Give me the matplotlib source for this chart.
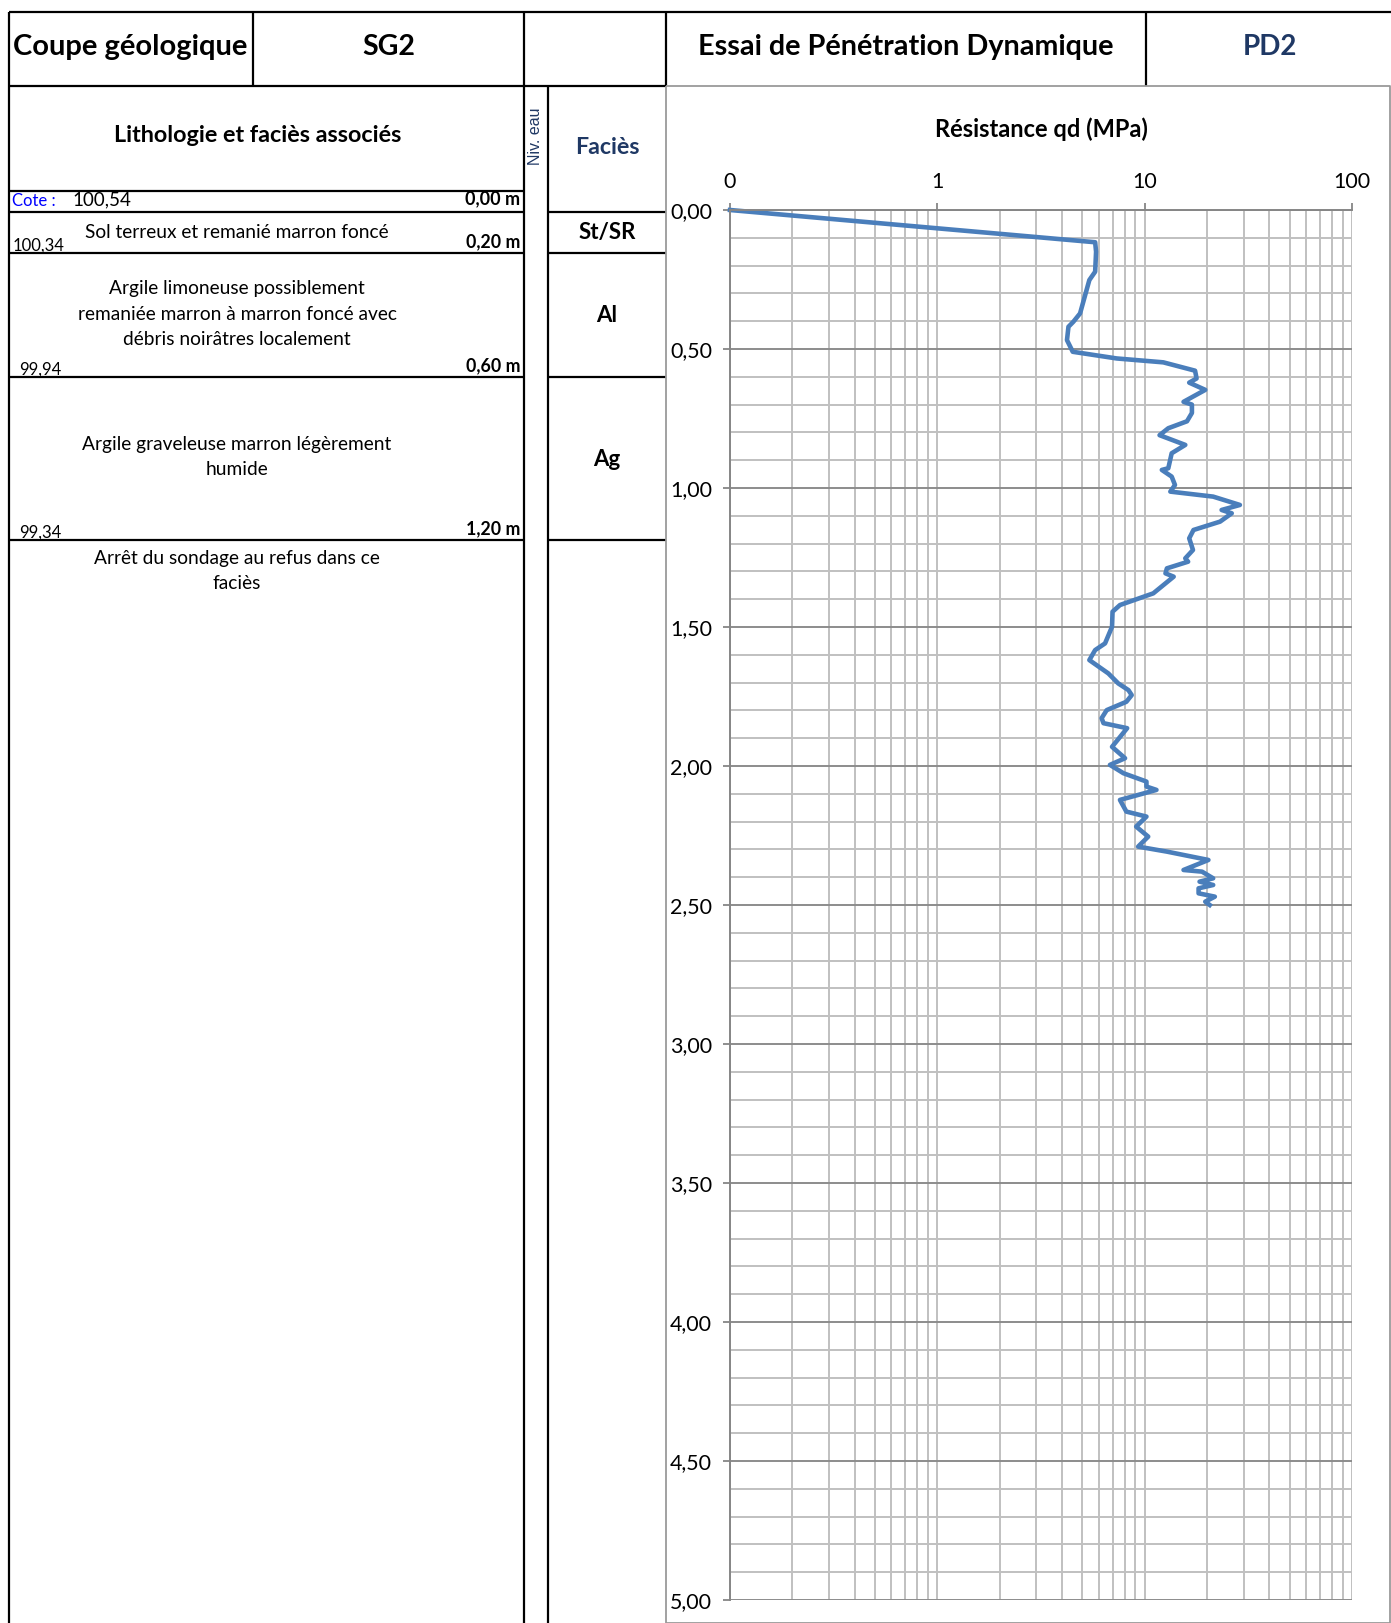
import matplotlib.pyplot as plt
from matplotlib.ticker import FixedLocator, LogLocator, MultipleLocator, NullFormatter

plt.rcParams['font.family'] = ['Lato', 'DejaVu Sans']

# Données du sondage
sondage = "SG2"
essai = "PD2"
cote_tete = "100,54"
couches = [
    "Sol terreux et remanié marron foncé",
    "Argile limoneuse possiblement\nremaniée marron à marron foncé avec\ndébris noirâtres localement",
    "Argile graveleuse marron légèrement\nhumide",
]
fin_sondage = "Arrêt du sondage au refus dans ce\nfaciès"
prof_base = ["0,20 m", "0,60 m", "1,20 m"]
cote_base = ["100,34", "99,94", "99,34"]
facies = ["St/SR", "Al", "Ag"]

# Résistance de pointe qd (MPa) en fonction de la profondeur (m)
profondeur = [0.0, 0.116, 0.15, 0.222, 0.252, 0.372, 0.402, 0.42, 0.468, 0.51,
              0.534, 0.548, 0.578, 0.606, 0.621, 0.647, 0.69, 0.70, 0.73, 0.76,
              0.785, 0.81, 0.845, 0.875, 0.929, 0.935, 0.959, 0.989, 1.013, 1.031,
              1.061, 1.079, 1.091, 1.121, 1.151, 1.181, 1.223, 1.253, 1.265, 1.289,
              1.307, 1.319, 1.379, 1.421, 1.445, 1.499, 1.559, 1.583, 1.619, 1.667,
              1.703, 1.727, 1.745, 1.769, 1.799, 1.828, 1.846, 1.864, 1.931, 1.972,
              1.996, 2.026, 2.056, 2.074, 2.086, 2.122, 2.164, 2.182, 2.218, 2.254,
              2.29, 2.308, 2.338, 2.374, 2.38, 2.404, 2.416, 2.428, 2.44, 2.458,
              2.47, 2.488, 2.50]
qd = [0.1, 5.77, 5.83, 5.77, 5.41, 4.88, 4.53, 4.29, 4.22, 4.50,
      7.33, 12.3, 17.5, 17.8, 16.4, 19.6, 15.4, 16.9, 16.9, 16.0,
      13.0, 11.8, 15.7, 13.5, 13.0, 12.1, 13.5, 14.0, 13.3, 21.4,
      28.8, 23.5, 26.3, 23.1, 17.2, 16.4, 17.1, 15.7, 16.2, 12.8,
      12.6, 13.8, 11.0, 7.6, 7.0, 6.96, 6.44, 5.77, 5.41, 6.68,
      7.46, 8.35, 8.66, 8.16, 6.56, 6.2, 6.33, 8.23, 6.96, 8.04,
      6.8, 7.9, 10.2, 10.2, 11.4, 7.6, 8.16, 10.2, 9.1, 10.4,
      9.3, 12.8, 20.3, 15.4, 18.9, 21.4, 18.4, 21.4, 18.2, 18.2,
      21.8, 19.6, 20.6]

x_ticks = [0.1, 1, 10, 100]
x_tick_labels = ["0", "1", "10", "100"]
y_ticks = [0, 0.5, 1, 1.5, 2, 2.5, 3, 3.5, 4, 4.5, 5]
y_tick_labels = ["0,00", "0,50", "1,00", "1,50", "2,00", "2,50",
                 "3,00", "3,50", "4,00", "4,50", "5,00"]

W, H = 1391, 1623
fig = plt.figure(figsize=(W / 100, H / 100), dpi=100)
bg = fig.add_axes([0, 0, 1, 1])
bg.set_xlim(0, W)
bg.set_ylim(H, 0)
bg.axis('off')

noir = dict(color='black', lw=1.6, solid_capstyle='butt')
gris = dict(color='#9A9A9A', lw=1.3, solid_capstyle='butt')
bleu_fonce = '#1F3864'

# cadre du tableau
bg.plot([9, W], [12, 12], **noir)
bg.plot([9, 666], [86, 86], **noir)
for x in [9, 524]:
    bg.plot([x, x], [12, H], **noir)
for x in [253, 666, 1146]:
    bg.plot([x, x], [12, 86], **noir)
bg.plot([548, 548], [86, H], **noir)
for y in [191, 212, 253, 377, 540]:
    bg.plot([9, 524], [y, y], **noir)
for y in [212, 253, 377, 540]:
    bg.plot([548, 666], [y, y], **noir)
# cadre du graphique
bg.plot([666, W - 1, W - 1, 666, 666], [86, 86, H, H, 86], **gris)

# en-têtes
bg.text(13, 47, "Coupe géologique", fontsize=21, fontweight='bold', va='center')
bg.text(389, 47, sondage, fontsize=20.5, fontweight='bold', ha='center', va='center')
bg.text(906, 47, "Essai de Pénétration Dynamique", fontsize=20.7, fontweight='bold',
        ha='center', va='center')
bg.text(1270, 47, essai, fontsize=20, fontweight='bold', ha='center', va='center',
        color=bleu_fonce)
bg.text(258, 136, "Lithologie et faciès associés", fontsize=16.8, fontweight='bold',
        ha='center', va='center')
bg.text(535, 136, "Niv. eau", fontsize=11.5, rotation=90, ha='center', va='center',
        color=bleu_fonce, family='Liberation Sans')
bg.text(607, 148, "Faciès", fontsize=16.7, fontweight='bold', ha='center', va='center',
        color=bleu_fonce)
bg.text(1041, 129, "Résistance qd (MPa)", fontsize=17, fontweight='bold',
        ha='center', va='center')

# ligne de cote
bg.text(12, 201, "Cote :", fontsize=12, color='#0000FF', va='center')
bg.text(72, 200, cote_tete, fontsize=13.5, va='center')
bg.text(520, 199, "0,00 m", fontsize=13, fontweight='bold', ha='right', va='center')

# couches
centre_couche = [232, 314, 457]
bas_couche = [253, 377, 540]
centre_facies = [233, 315, 459]
for i in range(len(couches)):
    bg.text(237, centre_couche[i], couches[i], fontsize=13.8, ha='center', va='center',
            linespacing=1.62)
    bg.text(520, bas_couche[i] - 11, prof_base[i], fontsize=12.8, fontweight='bold',
            ha='right', va='center')
    x_cote = 13 if i == 0 else 19
    bg.text(x_cote, bas_couche[i] - 7, cote_base[i], fontsize=12, va='center')
    bg.text(607, centre_facies[i], facies[i], fontsize=16, fontweight='bold',
            ha='center', va='center')
bg.text(237, 571, fin_sondage, fontsize=13.8, ha='center', va='center', linespacing=1.62)

# graphique pénétromètre
ax = fig.add_axes([730 / W, (H - 1600) / H, 622 / W, 1390 / H])
ax.set_xscale('log')
ax.set_xlim(0.1, 100)
ax.set_ylim(5, 0)
ax.xaxis.set_major_locator(FixedLocator(x_ticks))
ax.set_xticklabels(x_tick_labels)
ax.xaxis.set_minor_locator(LogLocator(base=10, subs=range(2, 10), numticks=20))
ax.xaxis.set_minor_formatter(NullFormatter())
ax.set_yticks(y_ticks)
ax.set_yticklabels(y_tick_labels)
ax.yaxis.set_minor_locator(MultipleLocator(0.1))
ax.xaxis.tick_top()
ax.tick_params(which='major', length=5, width=1.3, color='#868686', labelsize=15.4)
ax.tick_params(axis='x', which='major', pad=8)
ax.tick_params(axis='y', which='major', pad=8)
ax.tick_params(which='minor', length=0)
ax.grid(True, which='both', axis='x', color='#C0C0C0', lw=1.4)
ax.grid(True, which='minor', axis='y', color='#C0C0C0', lw=1.4)
ax.grid(True, which='major', axis='y', color='#8C8C8C', lw=1.4)
ax.set_axisbelow(True)
for side in ['right', 'bottom']:
    ax.spines[side].set_visible(False)
for side in ['left', 'top']:
    ax.spines[side].set_color('#868686')
    ax.spines[side].set_linewidth(1.4)
ax.plot(qd, profondeur, color='#4A7EBB', lw=3.3, solid_joinstyle='round', clip_on=False)

fig.savefig('out.png', dpi=100)
